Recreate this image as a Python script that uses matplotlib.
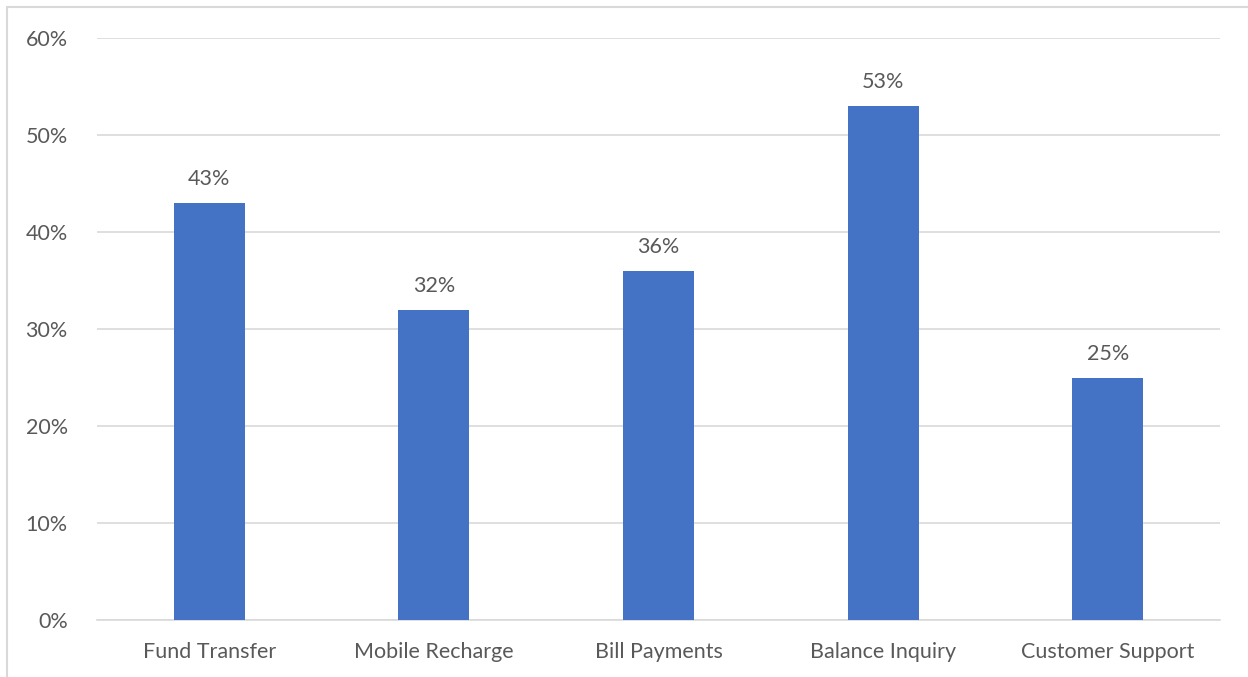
import matplotlib
matplotlib.use("Agg")
import matplotlib.pyplot as plt
from matplotlib.ticker import FuncFormatter
from matplotlib.patches import Rectangle

categories = ["Fund Transfer", "Mobile Recharge", "Bill Payments", "Balance Inquiry", "Customer Support"]
values = [43, 32, 36, 53, 25]
yticks = [0, 10, 20, 30, 40, 50, 60]

plt.rcParams["font.family"] = ["Lato", "DejaVu Sans"]
txt = "#595959"

fig = plt.figure(figsize=(12.48, 6.77), dpi=100)
# chart area border
fig.patches.append(Rectangle((7 / 1248, -0.1), 1.2, 1 - 7 / 677 + 0.1, transform=fig.transFigure,
                             fill=False, edgecolor="#D9D9D9", linewidth=1.5))
ax = fig.add_axes([97 / 1248, 1 - 620 / 677, (1220 - 97) / 1248, (620 - 38) / 677])

x = range(len(categories))
bars = ax.bar(x, values, width=0.316, color="#4472C4", zorder=3)
for b, v in zip(bars, values):
    ax.text(b.get_x() + b.get_width() / 2, v + 1.4, f"{v}%", ha="center", va="bottom",
            fontsize=15.5, color=txt)

ax.set_xlim(-0.5, len(categories) - 0.5)
ax.set_ylim(0, 60)
ax.set_yticks(yticks)
ax.yaxis.set_major_formatter(FuncFormatter(lambda v, p: f"{v:.0f}%"))
ax.set_xticks(list(x))
ax.set_xticklabels(categories)
ax.grid(axis="y", color="#D9D9D9", linewidth=1.2, zorder=0)
for s in ["top", "right", "left"]:
    ax.spines[s].set_visible(False)
ax.spines["bottom"].set_color("#D9D9D9")
ax.spines["bottom"].set_linewidth(1.2)
ax.tick_params(axis="both", length=0, labelsize=15.5, labelcolor=txt)
ax.tick_params(axis="y", pad=21)
ax.tick_params(axis="x", pad=16)

fig.savefig("out.png", dpi=100)
